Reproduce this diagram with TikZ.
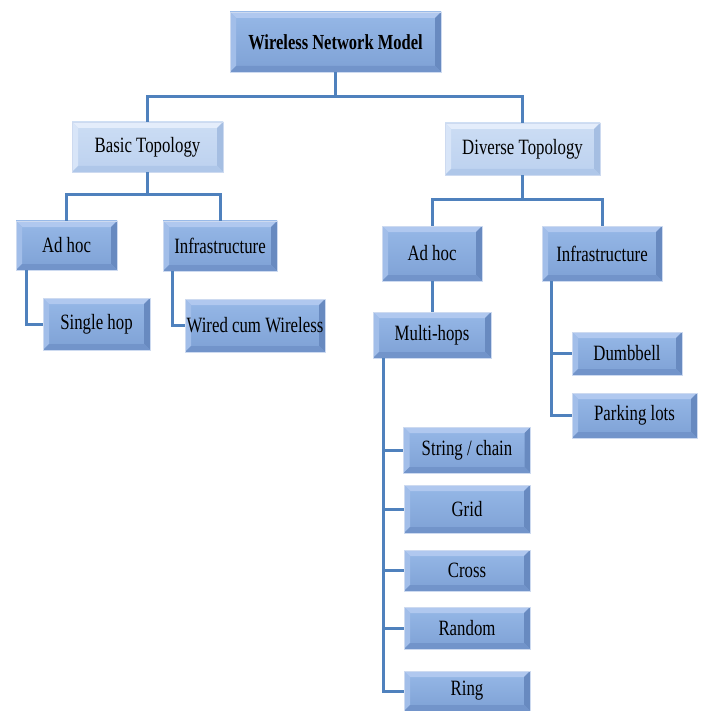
\documentclass[tikz,border=0pt]{standalone}
\usepackage{fontspec}
\setmainfont{Liberation Serif}
\usepackage{graphicx}
\definecolor{conncol}{RGB}{79,129,189}
\definecolor{mtop}{RGB}{150,184,231}
\definecolor{mbot}{RGB}{126,161,213}
\definecolor{mbevT}{RGB}{176,200,239}
\definecolor{mbevL}{RGB}{162,190,233}
\definecolor{mbevR}{RGB}{104,138,192}
\definecolor{mbevB}{RGB}{114,148,202}
\definecolor{ltop}{RGB}{204,221,244}
\definecolor{lbot}{RGB}{188,209,239}
\definecolor{lbevT}{RGB}{228,237,251}
\definecolor{lbevL}{RGB}{216,229,248}
\definecolor{lbevR}{RGB}{165,190,226}
\definecolor{lbevB}{RGB}{175,199,233}
\definecolor{halo}{RGB}{205,218,240}
\newcommand\vs[1]{\scalebox{1}[1.3]{#1}}
\newcommand\bevelpic[5]{%
  \fill[#1] (path picture bounding box.north west) -- (path picture bounding box.north east)
    -- ([shift={(-#5,-#5)}]path picture bounding box.north east)
    -- ([shift={(#5,-#5)}]path picture bounding box.north west) -- cycle;
  \fill[#2] (path picture bounding box.north west) -- (path picture bounding box.south west)
    -- ([shift={(#5,#5)}]path picture bounding box.south west)
    -- ([shift={(#5,-#5)}]path picture bounding box.north west) -- cycle;
  \fill[#3] (path picture bounding box.north east) -- (path picture bounding box.south east)
    -- ([shift={(-#5,#5)}]path picture bounding box.south east)
    -- ([shift={(-#5,-#5)}]path picture bounding box.north east) -- cycle;
  \fill[#4] (path picture bounding box.south west) -- (path picture bounding box.south east)
    -- ([shift={(-#5,#5)}]path picture bounding box.south east)
    -- ([shift={(#5,#5)}]path picture bounding box.south west) -- cycle;
}
\tikzset{
  bx/.style={rectangle, inner sep=0pt, draw=halo, line width=0.8pt,
    top color=mtop, bottom color=mbot,
    path picture={\bevelpic{mbevT}{mbevL}{mbevR}{mbevB}{6pt}},
    font=\fontsize{16.8}{19}\selectfont},
  lbx/.style={rectangle, inner sep=0pt, draw=halo, line width=0.8pt,
    top color=ltop, bottom color=lbot,
    path picture={\bevelpic{lbevT}{lbevL}{lbevR}{lbevB}{6pt}},
    font=\fontsize{16.8}{19}\selectfont},
  conn/.style={draw=conncol, line width=3pt}
}
\begin{document}
\begin{tikzpicture}[x=1pt,y=-1pt]
\fill[white] (0,0) rectangle (703,711);
\useasboundingbox (0,0) rectangle (703,711);
% nodes
\node[bx, minimum width=211pt, minimum height=60pt, font=\fontsize{16.5}{19}\selectfont\bfseries] (wnm) at (335.5,42) {\vs{Wireless Network Model}};
\node[lbx, minimum width=151pt, minimum height=50pt] (basic) at (147.5,147) {\vs{Basic Topology}};
\node[lbx, minimum width=155pt, minimum height=52pt] (diverse) at (522.5,149) {\vs{Diverse Topology}};
\node[bx, minimum width=101pt, minimum height=49pt] (adhoc1) at (66.5,245.5) {\vs{Ad hoc}};
\node[bx, minimum width=114pt, minimum height=50pt] (infra1) at (220,246) {\vs{Infrastructure}};
\node[bx, minimum width=107pt, minimum height=52pt] (single) at (96.5,324) {\vs{Single hop}};
\node[bx, minimum width=140pt, minimum height=53pt] (wired) at (255,325.5) {\vs{Wired cum Wireless}};
\node[bx, minimum width=100pt, minimum height=55pt] (adhoc2) at (432,253.5) {\vs{Ad hoc}};
\node[bx, minimum width=120pt, minimum height=55pt] (infra2) at (602,253.5) {\vs{Infrastructure}};
\node[bx, minimum width=118pt, minimum height=46pt] (multi) at (432,335) {\vs{Multi-hops}};
\node[bx, minimum width=110pt, minimum height=43pt] (dumb) at (627,353.5) {\vs{Dumbbell}};
\node[bx, minimum width=125pt, minimum height=45pt] (park) at (634.5,415.5) {\vs{Parking lots}};
\node[bx, minimum width=127pt, minimum height=46pt] (string) at (467,450) {\vs{String / chain}};
\node[bx, minimum width=126pt, minimum height=48pt] (grid) at (467,509) {\vs{Grid}};
\node[bx, minimum width=126pt, minimum height=41pt] (cross) at (467,570.5) {\vs{Cross}};
\node[bx, minimum width=126pt, minimum height=42pt] (random) at (467,628) {\vs{Random}};
\node[bx, minimum width=126pt, minimum height=40pt] (ring) at (467,691) {\vs{Ring}};
% connectors
\draw[conn] (wnm.south) -- ++(0,25);
\draw[conn] (basic.north) -- ++(0,-25) -| (diverse.north);
\draw[conn] (basic.south) -- ++(0,23);
\draw[conn] (adhoc1.north) -- ++(0,-26) -| (infra1.north);
\draw[conn] ([xshift=11pt]adhoc1.south west) |- (single.west);
\draw[conn] ([xshift=10pt]infra1.south west) |- (wired.west);
\draw[conn] (diverse.south) -- ++(0,25);
\draw[conn] (adhoc2.north) -- ++(0,-26) -| (infra2.north);
\draw[conn] (adhoc2.south) -- (multi.north);
\draw[conn] ([xshift=10pt]infra2.south west) |- (dumb.west);
\draw[conn] ([xshift=10pt]infra2.south west) |- (park.west);
\draw[conn] ([xshift=11pt]multi.south west) |- (string.west);
\draw[conn] ([xshift=11pt]multi.south west) |- (grid.west);
\draw[conn] ([xshift=11pt]multi.south west) |- (cross.west);
\draw[conn] ([xshift=11pt]multi.south west) |- (random.west);
\draw[conn] ([xshift=11pt]multi.south west) |- (ring.west);
\end{tikzpicture}
\end{document}
